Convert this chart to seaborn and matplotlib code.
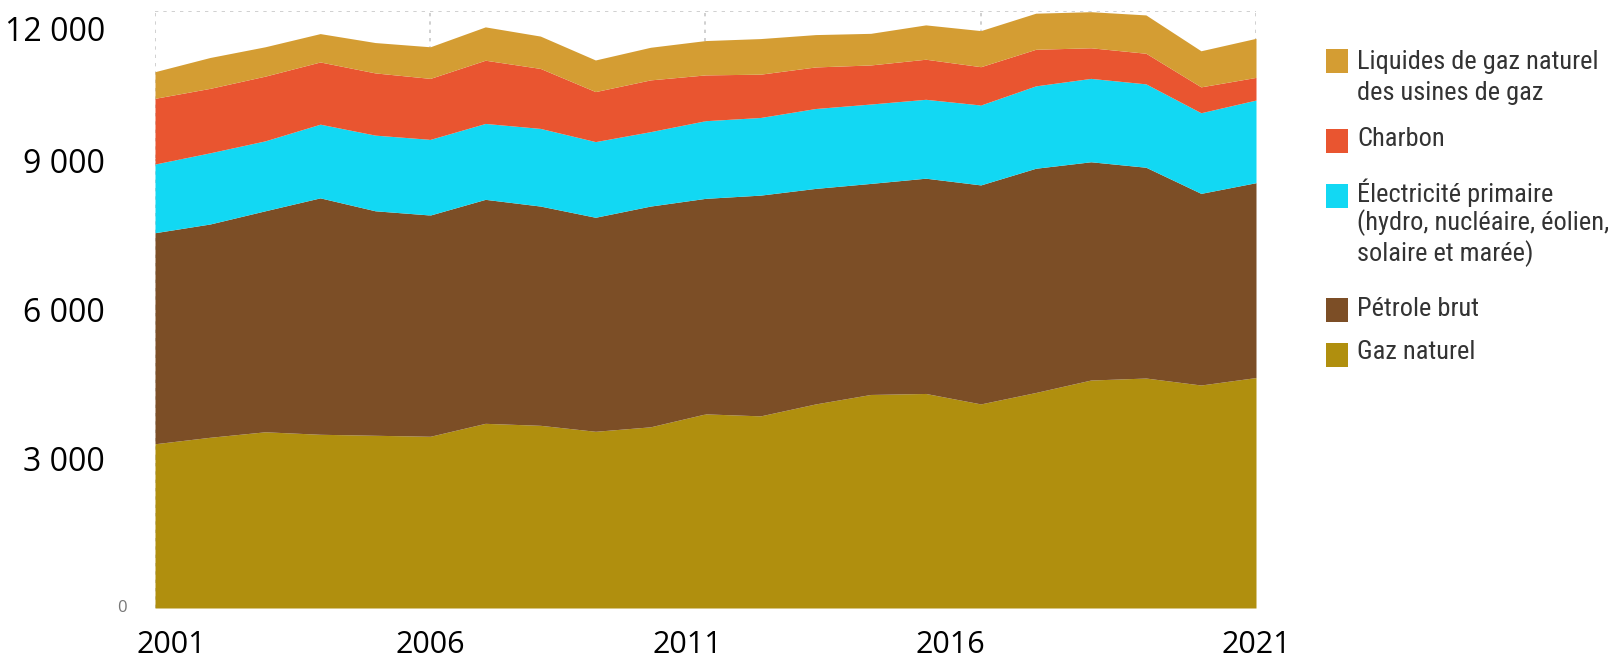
import matplotlib
matplotlib.use("Agg")
import matplotlib.pyplot as plt
import matplotlib.transforms as mtransforms
from matplotlib.patches import Rectangle
from matplotlib import font_manager
import seaborn as sns

years = list(range(2001, 2022))

gaz_naturel = [3300, 3430, 3540, 3490, 3470, 3450, 3710, 3670, 3550, 3640, 3900,
               3860, 4100, 4290, 4310, 4100, 4330, 4580, 4620, 4480, 4630]
petrole_brut = [4240, 4285, 4440, 4750, 4510, 4445, 4500, 4405, 4300, 4435, 4330,
                4435, 4330, 4240, 4325, 4400, 4505, 4385, 4235, 3850, 3915]
electricite = [1380, 1430, 1405, 1480, 1520, 1520, 1525, 1560, 1520, 1495, 1560,
               1560, 1605, 1595, 1585, 1605, 1655, 1675, 1675, 1620, 1660]
charbon = [1320, 1295, 1300, 1250, 1250, 1225, 1270, 1205, 1005, 1040, 920,
           870, 835, 785, 805, 770, 735, 615, 615, 520, 455]
liquides_gaz = [535, 620, 590, 570, 610, 635, 670, 650, 635, 655, 690,
                715, 650, 635, 690, 725, 725, 725, 770, 725, 785]

series_names = ["Gaz naturel", "Pétrole brut", "Électricité primaire",
                "Charbon", "Liquides de gaz naturel"]
colors = ["#B08F0E", "#7C4E26", "#12D8F3", "#E95530", "#D49D33"]

y_ticks = [3000, 6000, 9000, 12000]
y_tick_labels = ["3 000", "6 000", "9 000", "12 000"]
x_ticks = [2001, 2006, 2011, 2016, 2021]
x_tick_labels = ["2001", "2006", "2011", "2016", "2021"]

legend_lines = [
    ["Liquides de gaz naturel", "des usines de gaz"],
    ["Charbon"],
    ["Électricité primaire", "(hydro, nucléaire, éolien,", "solaire et marée)"],
    ["Pétrole brut"],
    ["Gaz naturel"],
]
legend_colors = ["#D49D33", "#E95530", "#12D8F3", "#7C4E26", "#B08F0E"]

sns.set_theme(style="white")
plt.rcParams["font.family"] = ["Open Sans", "DejaVu Sans"]

available = {f.name for f in font_manager.fontManager.ttflist}
legend_font = "Roboto"
for name in ["Liberation Sans Narrow", "Roboto Condensed", "Open Sans Condensed"]:
    if name in available:
        legend_font = name
        break

W, H = 1619, 661
fig = plt.figure(figsize=(W / 100, H / 100), dpi=100)
ax = fig.add_axes([155 / W, 1 - 608 / H, (1256 - 155) / W, (608 - 10.7) / H])

ax.stackplot(years, gaz_naturel, petrole_brut, electricite, charbon, liquides_gaz,
             colors=colors, labels=series_names, linewidth=0, zorder=3)

ax.set_xlim(2001, 2021)
ax.set_ylim(0, 12000)
ax.set_axisbelow(True)
ax.grid(True, color="#c8c8c8", linestyle=(0, (2, 3)), linewidth=1.2, zorder=0)
sns.despine(ax=ax, left=True, bottom=True)

ax.set_yticks(y_ticks)
ax.set_yticklabels(y_tick_labels)
ax.set_xticks(x_ticks)
ax.set_xticklabels(x_tick_labels)
ax.tick_params(axis="y", length=0, pad=36, labelsize=23, labelcolor="black")
ax.tick_params(axis="x", length=0, pad=16, labelsize=22, labelcolor="black")

# overlay labels in the original are a bit off the gridlines
ylabs = ax.get_yticklabels()
ylabs[-1].set_transform(ylabs[-1].get_transform() +
                        mtransforms.ScaledTranslation(0, -13 / 72, fig.dpi_scale_trans))
x_shift = [12, 0, -13, -22, 0]
for lab, dx in zip(ax.get_xticklabels(), x_shift):
    lab.set_transform(lab.get_transform() +
                      mtransforms.ScaledTranslation(dx / 72, 0, fig.dpi_scale_trans))

ax.annotate("0", xy=(0, 0), xycoords="axes fraction", xytext=(-24, 0),
            textcoords="offset points", ha="center", va="center",
            fontsize=12, color="#777777")

# legend drawn by hand to keep the multi-line entries aligned on the first line
line_y = [[62, 93], [139], [193, 223, 254], [309], [352]]
patch_y = [61, 141, 196, 310, 355]
for lines, ys, py, col in zip(legend_lines, line_y, patch_y, legend_colors):
    fig.patches.append(Rectangle((1326 / W, 1 - (py + 12) / H), 22 / W, 24 / H,
                                 transform=fig.transFigure, facecolor=col,
                                 edgecolor="none"))
    for txt, y in zip(lines, ys):
        fig.text(1357 / W, 1 - y / H, txt, ha="left", va="center",
                 fontsize=19, color="#333333",
                 family=[legend_font, "DejaVu Sans"])

fig.savefig("out.png", dpi=100)
